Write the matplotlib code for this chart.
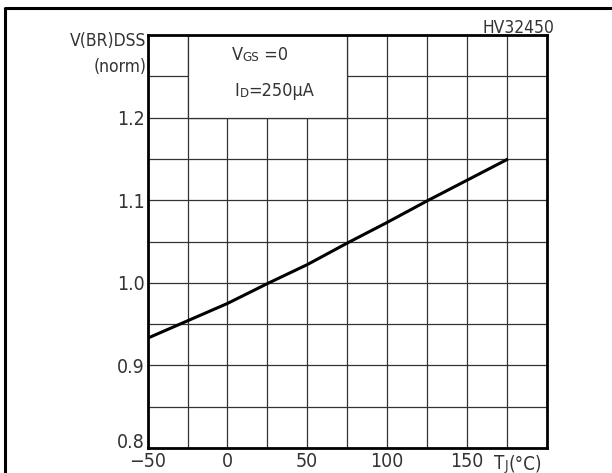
import matplotlib
matplotlib.use("Agg")
import matplotlib.pyplot as plt
from matplotlib import font_manager
from matplotlib.patches import Rectangle
from matplotlib.lines import Line2D

# curve
tj = [-50, -25, 0, 25, 50, 75, 100, 125, 150, 175]
vbr = [0.933, 0.954, 0.975, 0.999, 1.022, 1.048, 1.073, 1.099, 1.124, 1.149]

xticks = [-50, 0, 50, 100, 150]
xticks_minor = [-25, 25, 75, 125, 175]
yticks = [0.8, 0.9, 1.0, 1.1, 1.2]
yticks_minor = [0.85, 0.95, 1.05, 1.15, 1.25]
ylabels = ["0.8", "0.9", "1.0", "1.1", "1.2"]

names = {f.name for f in font_manager.fontManager.ttflist}
if "Liberation Sans Narrow" in names:
    fam, stretch = "Liberation Sans Narrow", "normal"
else:
    fam, stretch = "DejaVu Sans", "condensed"
plt.rcParams["font.family"] = [fam, "DejaVu Sans"]
plt.rcParams["font.stretch"] = stretch
plt.rcParams["font.weight"] = "light"
tc = "#333333"

fig = plt.figure(figsize=(6.12, 4.73), dpi=100)
ax = fig.add_axes([147.7 / 612, 1 - 448 / 473, (546.5 - 147.7) / 612, (448 - 35) / 473])

ax.set_xlim(-50, 200)
ax.set_ylim(0.8, 1.3)
ax.set_xticks(xticks)
ax.set_xticks(xticks_minor, minor=True)
ax.set_yticks(yticks)
ax.set_yticks(yticks_minor, minor=True)
ax.set_yticklabels(ylabels)
ax.tick_params(which="both", length=0, labelsize=14, colors=tc)
ax.tick_params(axis="y", pad=2)
ax.tick_params(axis="x", pad=3)
# bottom y label sits on the axis line, above the -50
ax.get_yticklabels()[0].set_verticalalignment("baseline")
ax.grid(True, which="both", color="#333333", lw=0.9)
ax.set_axisbelow(True)
for s in ax.spines.values():
    s.set_linewidth(2.0)

# blank box for the test conditions
ax.add_patch(Rectangle((-25, 1.2), 100, 0.1, facecolor="white",
                       edgecolor="#333333", lw=0.9, zorder=1.5))

ax.plot(tj, vbr, color="black", lw=2.2, zorder=3)

def chained(x, y, parts, **kw):
    t = ax.text(x, y, parts[0][0], fontsize=parts[0][1], color=tc,
                va="baseline", ha="left", **kw)
    for s, fs in parts[1:]:
        t = ax.annotate(s, xy=(1, 0), xycoords=t, fontsize=fs, color=tc,
                        va="bottom", ha="left", annotation_clip=False)
    return t

chained(2.5, 1.2695, [("V", 13), ("GS", 9.5), (" =0", 13)])
chained(4.5, 1.2258, [("I", 13), ("D", 9.5), ("=250μA", 13)])
chained(167.3, 0.7745, [("T", 13.5), ("J", 10), ("(°C)", 13.5)], clip_on=False)

ax.text(-50.8, 1.2865, "V(BR)DSS", fontsize=12.5, color=tc, ha="right",
        va="baseline", clip_on=False)
ax.text(-50.8, 1.2555, "(norm)", fontsize=12.5, color=tc, ha="right",
        va="baseline", clip_on=False)
ax.text(205.2, 1.3027, "HV32450", fontsize=12.5, color=tc, ha="right",
        va="baseline", clip_on=False)

# outer frame (left and top)
fig.add_artist(Line2D([5 / 612, 5 / 612, 1], [0, 1 - 8.5 / 473, 1 - 8.5 / 473],
                      transform=fig.transFigure, color="black", lw=2.2))

fig.savefig("out.png", dpi=100)
